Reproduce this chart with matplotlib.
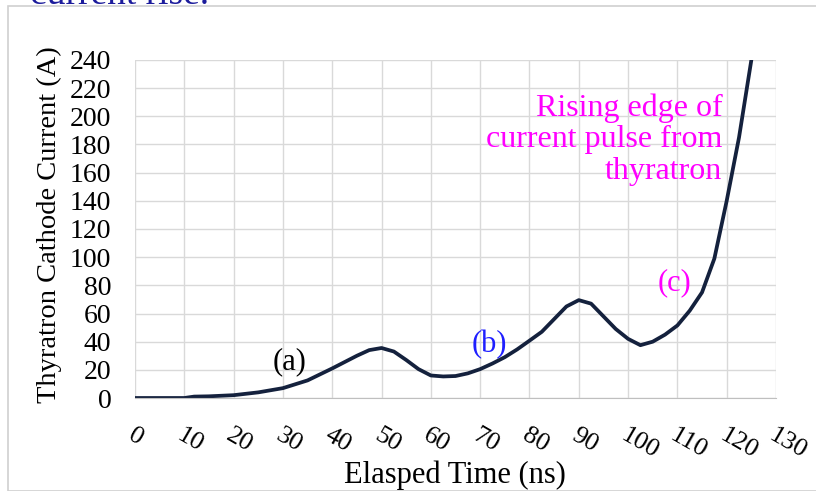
import matplotlib
matplotlib.use("Agg")
import matplotlib.pyplot as plt
from matplotlib.patches import Rectangle

plt.rcParams['font.family'] = ['Liberation Serif', 'DejaVu Serif']

# values
time_ns = [0, 5, 10, 12, 15, 20, 25, 30, 35, 40, 42.5, 45, 47.5, 50, 52.5,
           55, 57.5, 60, 62.5, 65, 67.5, 70, 72.5, 75, 77.5, 80, 82.5, 85,
           87.5, 90, 92.5, 95, 97.5, 100, 102.5, 105, 107.5, 110, 112.5, 115,
           117.5, 120, 122.5, 125]
current_a = [0, 0, 0, 1, 1.2, 2, 4, 7, 12.5, 21, 25.5, 30, 34, 35.5, 33,
             27, 20.5, 16, 15.3, 15.6, 17.5, 20.5, 24.5, 29, 34.5, 40.7, 47, 56,
             65, 69.5, 67, 58, 49, 42, 37.5, 40, 45, 51.5, 62, 75,
             99, 140, 185, 240]
x_ticks = list(range(0, 131, 10))
y_ticks = list(range(0, 241, 20))

fig = plt.figure(figsize=(8.16, 4.91), dpi=100)
ax = fig.add_axes([135/816, 93/491, 641/816, 338/491])

# chart border like the spreadsheet frame
fig.patches.append(Rectangle((8/816, 0), 1, 1 - 6/491, transform=fig.transFigure,
                             fill=False, edgecolor='#d0d0d0', linewidth=1.2))
fig.text(30/816, 1 - 4/491, "current rise.", color='#1c1c9c', fontsize=27,
         va='baseline', ha='left')

ax.plot(time_ns, current_a, color='#14213d', linewidth=2.7,
        solid_capstyle='round', solid_joinstyle='round')

ax.set_xlim(0, 130)
ax.set_ylim(0, 240)
ax.set_xticks(x_ticks)
ax.set_yticks(y_ticks)
ax.grid(True, color='#d9d9d9', linewidth=1)
ax.set_axisbelow(True)
for s in ['top', 'right', 'left']:
    ax.spines[s].set_visible(False)
ax.spines['bottom'].set_color('#bfbfbf')
ax.tick_params(axis='both', length=0)
ax.tick_params(axis='y', pad=17, labelsize=20)
ax.tick_params(axis='x', pad=19, labelsize=19)
for lab in ax.get_xticklabels():
    lab.set_rotation(-30)
    lab.set_ha('left')
    lab.set_va('top')
    lab.set_rotation_mode('anchor')

ax.set_ylabel("Thyratron Cathode Current (A)", fontsize=20.5)
ax.yaxis.label.set_va('center')
ax.yaxis.set_label_coords(-0.133, 0.512)
ax.set_xlabel("Elasped Time (ns)", fontsize=22)
ax.xaxis.label.set_va('center')
ax.xaxis.set_label_coords(0.499, -0.228)

ax.text(31.4, 25.7, "(a)", fontsize=22, color='black', ha='center', va='center')
ax.text(71.8, 38, "(b)", fontsize=22, color='#1f1fff', ha='center', va='center')
ax.text(109.5, 82, "(c)", fontsize=22, color='#ff00ff', ha='center', va='center')
ax.text(119.1, 183.6, "Rising edge of\ncurrent pulse from\nthyratron", fontsize=23,
        color='#ff00ff', ha='right', va='center', linespacing=1.12)

fig.savefig("out.png", dpi=100)
